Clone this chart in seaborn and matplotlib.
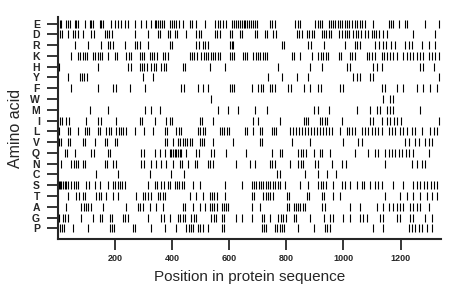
import numpy as np
import pandas as pd
import matplotlib
matplotlib.use('Agg')
import matplotlib.pyplot as plt
import seaborn as sns

## Amino acid rows (top to bottom) and positions where each occurs

amino_acids = ['E', 'D', 'R', 'K', 'H', 'Y', 'F', 'W', 'M', 'I',
               'L', 'V', 'Q', 'N', 'C', 'S', 'T', 'A', 'G', 'P']

pos_E = [6, 11, 29, 35, 41, 58, 64, 70, 93, 111, 117, 123, 146, 152, 158, 187, 199, 210, 222, 234, 245,
         269, 292, 310, 327, 339, 345, 351, 357, 363, 370, 391, 399, 407, 415, 423, 438, 461, 470, 485,
         514, 549, 559, 569, 579, 590, 608, 615, 622, 629, 636, 643, 650, 655, 662, 669, 676, 683, 690,
         697, 743, 751, 759, 830, 839, 847, 901, 909, 917, 925, 948, 956, 964, 972, 980, 988, 996, 1004,
         1013, 1021, 1029, 1041, 1049, 1057, 1065, 1076, 1105, 1158, 1166, 1174, 1193, 1216, 1224, 1286, 1333]
pos_D = [6, 14, 35, 52, 61, 69, 87, 117, 126, 164, 172, 180, 188, 269, 316, 350, 358, 385, 394, 409, 417,
         450, 485, 493, 501, 549, 557, 566, 602, 610, 637, 645, 690, 698, 725, 733, 754, 763, 836, 845,
         853, 871, 880, 888, 896, 924, 932, 940, 949, 957, 983, 996, 1004, 1013, 1021, 1035, 1043, 1051,
         1060, 1076, 1087, 1099, 1107, 1115, 1123, 1140, 1152, 1245, 1321]
pos_R = [58, 105, 152, 175, 183, 192, 234, 269, 278, 288, 316, 391, 399, 485, 493, 508, 516, 525, 602,
         608, 614, 784, 792, 877, 885, 930, 1006, 1040, 1049, 1058, 1111, 1125, 1140, 1150, 1165, 1181,
         1216, 1228, 1240, 1275, 1298, 1321]
pos_K = [47, 70, 78, 86, 94, 103, 123, 131, 139, 147, 155, 175, 199, 207, 240, 248, 256, 286, 294, 303,
         321, 329, 337, 346, 368, 376, 384, 461, 470, 478, 486, 502, 511, 519, 527, 535, 543, 551, 560,
         568, 602, 610, 618, 649, 655, 663, 684, 692, 701, 709, 717, 725, 733, 819, 827, 848, 889, 912,
         921, 929, 937, 945, 983, 991, 1023, 1031, 1040, 1082, 1090, 1099, 1111, 1134, 1143, 1152, 1163,
         1175, 1187, 1210, 1222, 1234, 1245, 1257, 1268, 1280, 1298, 1310, 1322, 1333]
pos_H = [2, 140, 245, 255, 286, 294, 303, 311, 327, 335, 343, 362, 370, 378, 438, 446, 532, 584, 772,
         883, 924, 1011, 1023, 1105, 1119, 1134, 1268, 1280, 1316]
pos_Y = [35, 76, 84, 92, 100, 298, 333, 737, 784, 836, 877, 1035, 1046, 1058, 1093, 1105, 1333]
pos_F = [47, 140, 193, 202, 251, 304, 432, 440, 491, 508, 526, 602, 610, 618, 678, 702, 710, 718, 743,
         751, 759, 807, 815, 860, 883, 912, 921, 988, 1000, 1134, 1146, 1187, 1210, 1257, 1280, 1304, 1327]
pos_W = [537, 1140, 1163, 1175]
pos_M = [111, 175, 304, 327, 356, 561, 596, 631, 690, 731, 895, 912, 948, 1046, 1093, 1117, 1128, 1152,
         1163, 1175, 1268]
pos_I = [6, 14, 29, 37, 99, 140, 152, 204, 286, 294, 339, 380, 391, 399, 497, 505, 543, 684, 702, 778,
         860, 868, 876, 918, 926, 935, 943, 994, 1093, 1105, 1134, 1152, 1164, 1176, 1188, 1200, 1333]
pos_L = [2, 35, 43, 70, 93, 101, 110, 140, 148, 169, 178, 186, 204, 213, 221, 229, 237, 269, 300, 333,
         374, 382, 415, 423, 431, 491, 499, 507, 515, 567, 575, 583, 591, 599, 654, 661, 684, 708, 716,
         749, 757, 765, 813, 823, 834, 845, 855, 866, 876, 887, 898, 908, 919, 929, 940, 950, 960, 988,
         1011, 1020, 1030, 1040, 1064, 1075, 1087, 1099, 1111, 1122, 1134, 1158, 1170, 1181, 1198, 1210,
         1222, 1240, 1251, 1275, 1304, 1316, 1327]
pos_V = [1, 4, 12, 35, 43, 87, 95, 128, 164, 172, 199, 207, 374, 382, 403, 420, 429, 437, 445, 453, 461,
         470, 497, 505, 513, 543, 614, 708, 716, 819, 883, 1000, 1052, 1064, 1216, 1228, 1251, 1263, 1286,
         1298, 1310]
pos_Q = [23, 31, 58, 117, 125, 175, 183, 292, 300, 339, 356, 374, 391, 397, 403, 409, 415, 420, 426, 432,
         450, 485, 493, 537, 546, 590, 660, 749, 778, 786, 842, 850, 859, 867, 895, 918, 926, 953, 1040,
         1087, 1111, 1122, 1146, 1158, 1170, 1182, 1194, 1206, 1218, 1230, 1242, 1298]
pos_N = [11, 46, 55, 63, 71, 87, 96, 164, 172, 193, 204, 292, 300, 327, 344, 362, 380, 403, 426, 434, 456,
         479, 487, 526, 534, 542, 625, 673, 690, 743, 751, 759, 813, 842, 850, 859, 901, 909, 959, 996,
         1008, 1146, 1240, 1257, 1275, 1286]
pos_C = [134, 210, 324, 395, 441, 766, 776, 866, 912, 941, 975]
pos_S = [2, 6, 12, 17, 23, 29, 35, 46, 55, 63, 71, 99, 107, 128, 146, 175, 193, 201, 209, 217, 225, 234,
         316, 339, 347, 362, 370, 385, 394, 409, 417, 425, 433, 441, 473, 497, 584, 643, 678, 687, 695,
         703, 711, 719, 728, 736, 744, 752, 760, 769, 777, 795, 848, 877, 912, 921, 929, 937, 965, 996,
         1004, 1023, 1046, 1064, 1072, 1093, 1111, 1122, 1134, 1175, 1210, 1245, 1257, 1269, 1281, 1293,
         1305, 1317, 1329]
pos_T = [35, 64, 72, 87, 96, 134, 142, 151, 169, 193, 210, 275, 298, 306, 314, 327, 350, 358, 367, 375,
         461, 485, 508, 532, 540, 548, 556, 584, 678, 687, 719, 728, 736, 744, 752, 801, 809, 871, 880,
         924, 932, 965, 988, 1146, 1199, 1222, 1245, 1269, 1292, 1310, 1327]
pos_A = [29, 82, 90, 98, 106, 114, 158, 240, 281, 289, 297, 321, 344, 368, 438, 446, 473, 497, 514, 532,
         540, 548, 556, 573, 581, 589, 597, 678, 708, 801, 809, 825, 833, 841, 849, 857, 866, 924, 936,
         1023, 1058, 1117, 1140, 1158, 1175, 1187, 1199, 1210, 1234, 1245, 1257, 1269, 1298]
pos_G = [1, 3, 17, 25, 34, 82, 123, 146, 154, 181, 189, 228, 236, 244, 315, 362, 370, 391, 420, 429, 437,
         445, 467, 475, 484, 537, 546, 554, 573, 581, 625, 643, 678, 714, 722, 743, 772, 780, 788, 797,
         825, 833, 883, 930, 953, 962, 1000, 1023, 1058, 1070, 1082, 1128, 1140, 1187, 1199, 1234, 1245,
         1286, 1310]
pos_P = [6, 14, 22, 52, 105, 181, 189, 197, 263, 271, 327, 374, 415, 450, 458, 466, 474, 491, 499, 507,
         526, 573, 581, 714, 722, 730, 760, 768, 777, 785, 793, 842, 895, 936, 944, 952, 1105, 1140, 1228,
         1240, 1252, 1264, 1276, 1293, 1310]

seq_length = 1342
x_ticks = [200, 400, 600, 800, 1000, 1200]

all_pos = [pos_E, pos_D, pos_R, pos_K, pos_H, pos_Y, pos_F, pos_W, pos_M, pos_I,
           pos_L, pos_V, pos_Q, pos_N, pos_C, pos_S, pos_T, pos_A, pos_G, pos_P]

## Build long table: one row per residue

records = []
for i in range(len(amino_acids)):
    for p in all_pos[i]:
        records.append({'aa': amino_acids[i], 'row': i, 'position': p})
df = pd.DataFrame(records)

## Plot

sns.set_style('ticks')
plt.rcParams['font.family'] = ['Liberation Sans', 'DejaVu Sans']

fig = plt.figure(figsize=(4.6, 2.99), dpi=100)
ax = fig.add_axes([0.126, 0.2, 0.833, 0.743])

sns.scatterplot(data=df, x='position', y='row', marker='|', s=36, color='black',
                linewidth=0.8, legend=False, ax=ax)

ax.set_ylim(20.0, -0.6)
ax.set_xlim(0, seq_length)
ax.set_yticks(range(len(amino_acids)))
ax.set_yticklabels(amino_acids, fontsize=7.5, fontweight='bold')
ax.set_xticks(x_ticks)
ax.set_xticklabels([str(t) for t in x_ticks], fontsize=6.5, fontweight='bold')
ax.tick_params(axis='y', length=8, width=1.3, pad=5)
ax.tick_params(axis='x', length=8, width=1.3, pad=3)
ax.set_xlabel('Position in protein sequence', fontsize=11, labelpad=5)
ax.set_ylabel('Amino acid', fontsize=11.5, labelpad=5)
sns.despine(ax=ax)
for side in ['left', 'bottom']:
    ax.spines[side].set_linewidth(1.5)

fig.savefig('out.png', dpi=100)
